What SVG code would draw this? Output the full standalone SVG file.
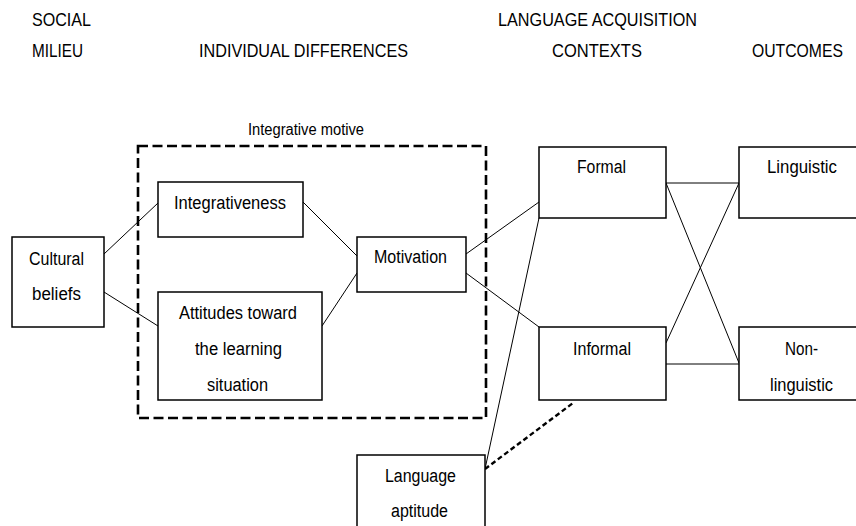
<svg xmlns="http://www.w3.org/2000/svg" width="856" height="526" viewBox="0 0 856 526">
  <defs>
    <style>
      text { font-family: "Liberation Sans", Arial, sans-serif; font-size: 18px; fill: #000; }
      .small { font-size: 16px; }
      .box { fill: #fff; stroke: #000; stroke-width: 1.5; }
      .link { fill: none; stroke: #000; stroke-width: 1; }
      .group { fill: none; stroke: #000; stroke-width: 2.6; stroke-dasharray: 10 4.5; }
      .dotted { fill: none; stroke: #000; stroke-width: 2.4; stroke-dasharray: 5 3; }
    </style>
  </defs>
  <rect width="856" height="526" fill="#fff"/>

  <!-- column headings -->
  <g id="headings">
    <text x="32" y="26" textLength="59" lengthAdjust="spacingAndGlyphs">SOCIAL</text>
    <text x="32" y="57" textLength="51" lengthAdjust="spacingAndGlyphs">MILIEU</text>
    <text x="199" y="57" textLength="209" lengthAdjust="spacingAndGlyphs">INDIVIDUAL DIFFERENCES</text>
    <text x="498" y="26" textLength="199" lengthAdjust="spacingAndGlyphs">LANGUAGE ACQUISITION</text>
    <text x="552" y="57" textLength="90" lengthAdjust="spacingAndGlyphs">CONTEXTS</text>
    <text x="752" y="57" textLength="91" lengthAdjust="spacingAndGlyphs">OUTCOMES</text>
  </g>

  <!-- integrative motive grouping -->
  <g id="integrative-motive">
    <rect class="group" x="138" y="146" width="348" height="272"/>
    <text class="small" x="248" y="135" textLength="116" lengthAdjust="spacingAndGlyphs">Integrative motive</text>
  </g>

  <!-- connectors -->
  <g id="connectors">
    <line class="link" x1="104" y1="254" x2="158" y2="203"/>
    <line class="link" x1="104" y1="292" x2="158" y2="326"/>
    <line class="link" x1="303" y1="202" x2="357" y2="256"/>
    <line class="link" x1="322" y1="326" x2="357" y2="273"/>
    <line class="link" x1="466" y1="254" x2="539" y2="202"/>
    <line class="link" x1="466" y1="273" x2="539" y2="327"/>
    <line class="link" x1="539" y1="218" x2="485" y2="469"/>
    <line class="link" x1="666" y1="183" x2="739" y2="183"/>
    <line class="link" x1="666" y1="364" x2="739" y2="364"/>
    <line class="link" x1="666" y1="183" x2="739" y2="363"/>
    <line class="link" x1="666" y1="343" x2="739" y2="183"/>
    <line class="dotted" x1="485" y1="469" x2="573" y2="403"/>
  </g>

  <g id="cultural-beliefs">
    <rect class="box" x="12" y="237" width="92" height="90"/>
    <text x="29" y="265" textLength="55" lengthAdjust="spacingAndGlyphs">Cultural</text>
    <text x="32" y="300" textLength="49" lengthAdjust="spacingAndGlyphs">beliefs</text>
  </g>

  <g id="integrativeness">
    <rect class="box" x="158" y="182" width="145" height="55"/>
    <text x="174" y="209" textLength="112" lengthAdjust="spacingAndGlyphs">Integrativeness</text>
  </g>

  <g id="attitudes">
    <rect class="box" x="158" y="292" width="164" height="108"/>
    <text x="179" y="319" textLength="118" lengthAdjust="spacingAndGlyphs">Attitudes toward</text>
    <text x="195" y="355" textLength="87" lengthAdjust="spacingAndGlyphs">the learning</text>
    <text x="207" y="391" textLength="61" lengthAdjust="spacingAndGlyphs">situation</text>
  </g>

  <g id="motivation">
    <rect class="box" x="357" y="237" width="109" height="55"/>
    <text x="374" y="263" textLength="73" lengthAdjust="spacingAndGlyphs">Motivation</text>
  </g>

  <g id="formal">
    <rect class="box" x="539" y="147" width="127" height="71"/>
    <text x="577" y="173" textLength="49" lengthAdjust="spacingAndGlyphs">Formal</text>
  </g>

  <g id="informal">
    <rect class="box" x="539" y="327" width="127" height="73"/>
    <text x="573" y="355" textLength="58" lengthAdjust="spacingAndGlyphs">Informal</text>
  </g>

  <g id="linguistic">
    <rect class="box" x="739" y="147" width="130" height="71"/>
    <text x="767" y="173" textLength="70" lengthAdjust="spacingAndGlyphs">Linguistic</text>
  </g>

  <g id="non-linguistic">
    <rect class="box" x="739" y="327" width="130" height="73"/>
    <text x="785" y="355" textLength="33" lengthAdjust="spacingAndGlyphs">Non-</text>
    <text x="770" y="391" textLength="63" lengthAdjust="spacingAndGlyphs">linguistic</text>
  </g>

  <g id="language-aptitude">
    <rect class="box" x="357" y="455" width="128" height="90"/>
    <text x="385" y="482" textLength="71" lengthAdjust="spacingAndGlyphs">Language</text>
    <text x="391" y="517" textLength="57" lengthAdjust="spacingAndGlyphs">aptitude</text>
  </g>
</svg>
